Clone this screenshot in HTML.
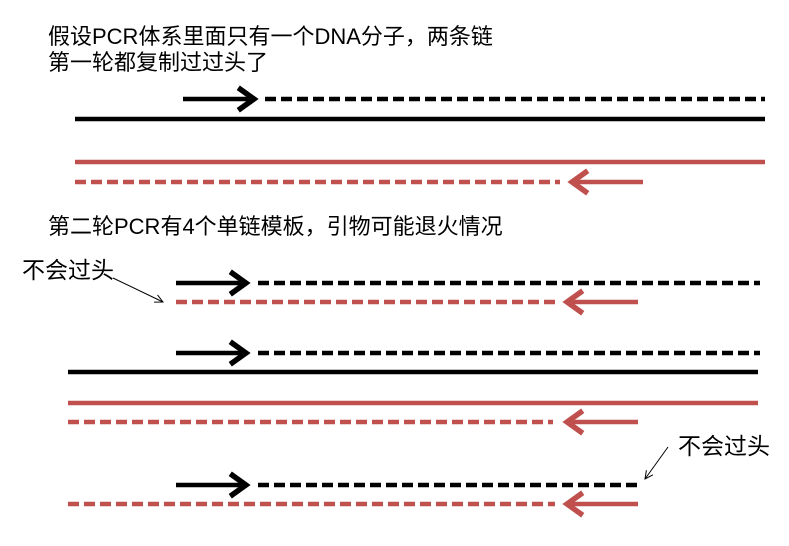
<!DOCTYPE html>
<html><head><meta charset="utf-8"><style>
body{margin:0;background:#fff;}
svg{display:block}
text{font-family:"Liberation Sans","Noto Sans CJK SC",sans-serif;font-size:22px;fill:#000}
</style></head><body>
<svg width="789" height="546" viewBox="0 0 789 546" xmlns="http://www.w3.org/2000/svg">
<defs>
<marker id="ab" markerWidth="6" markerHeight="6" refX="4" refY="3" orient="auto" markerUnits="strokeWidth"><path d="M0.5,0.5 L4,3 L0.5,5.5" fill="none" stroke="#000" stroke-width="1.2"/></marker>
<marker id="ar" markerWidth="6" markerHeight="6" refX="4" refY="3" orient="auto" markerUnits="strokeWidth"><path d="M0.5,0.5 L4,3 L0.5,5.5" fill="none" stroke="#c0504d" stroke-width="1.2"/></marker>
<marker id="thin" markerWidth="10" markerHeight="10" refX="9" refY="5" orient="auto" markerUnits="userSpaceOnUse"><path d="M1,1 L9,5 L1,9" fill="none" stroke="#000" stroke-width="1"/></marker>
</defs>
<text x="48" y="44">假设PCR体系里面只有一个DNA分子，两条链</text>
<text x="48" y="70">第一轮都复制过过头了</text>
<text x="48" y="234">第二轮PCR有4个单链模板，引物可能退火情况</text>
<text x="22" y="278" style="font-size:23px">不会过头</text>
<text x="678" y="454" style="font-size:23px">不会过头</text>
<g stroke-width="4.5" fill="none">
<line x1="183" y1="99" x2="254" y2="99" stroke="#000" marker-end="url(#ab)"/>
<line x1="265" y1="99" x2="765" y2="99" stroke="#000" stroke-dasharray="11,5"/>
<line x1="75" y1="119" x2="765" y2="119" stroke="#000"/>
<line x1="75" y1="162" x2="765" y2="162" stroke="#c0504d"/>
<line x1="75" y1="182" x2="560" y2="182" stroke="#c0504d" stroke-dasharray="11,5"/>
<line x1="643" y1="182" x2="572" y2="182" stroke="#c0504d" marker-end="url(#ar)"/>
<line x1="176" y1="283" x2="246" y2="283" stroke="#000" marker-end="url(#ab)"/>
<line x1="258" y1="283" x2="760" y2="283" stroke="#000" stroke-dasharray="11,5"/>
<line x1="176" y1="302" x2="556" y2="302" stroke="#c0504d" stroke-dasharray="11,5"/>
<line x1="638" y1="302" x2="567" y2="302" stroke="#c0504d" marker-end="url(#ar)"/>
<line x1="176" y1="353" x2="246" y2="353" stroke="#000" marker-end="url(#ab)"/>
<line x1="258" y1="353" x2="760" y2="353" stroke="#000" stroke-dasharray="11,5"/>
<line x1="68" y1="372" x2="758" y2="372" stroke="#000"/>
<line x1="68" y1="403" x2="758" y2="403" stroke="#c0504d"/>
<line x1="68" y1="422" x2="553" y2="422" stroke="#c0504d" stroke-dasharray="11,5"/>
<line x1="638" y1="422" x2="567" y2="422" stroke="#c0504d" marker-end="url(#ar)"/>
<line x1="176" y1="485" x2="246" y2="485" stroke="#000" marker-end="url(#ab)"/>
<line x1="258" y1="485" x2="637" y2="485" stroke="#000" stroke-dasharray="11,5"/>
<line x1="68" y1="504" x2="555" y2="504" stroke="#c0504d" stroke-dasharray="11,5"/>
<line x1="638" y1="504" x2="567" y2="504" stroke="#c0504d" marker-end="url(#ar)"/>
</g>
<line x1="113" y1="278" x2="163" y2="302" stroke="#000" stroke-width="1" marker-end="url(#thin)"/>
<line x1="668" y1="447" x2="645" y2="479" stroke="#000" stroke-width="1" marker-end="url(#thin)"/>
</svg>
</body></html>
